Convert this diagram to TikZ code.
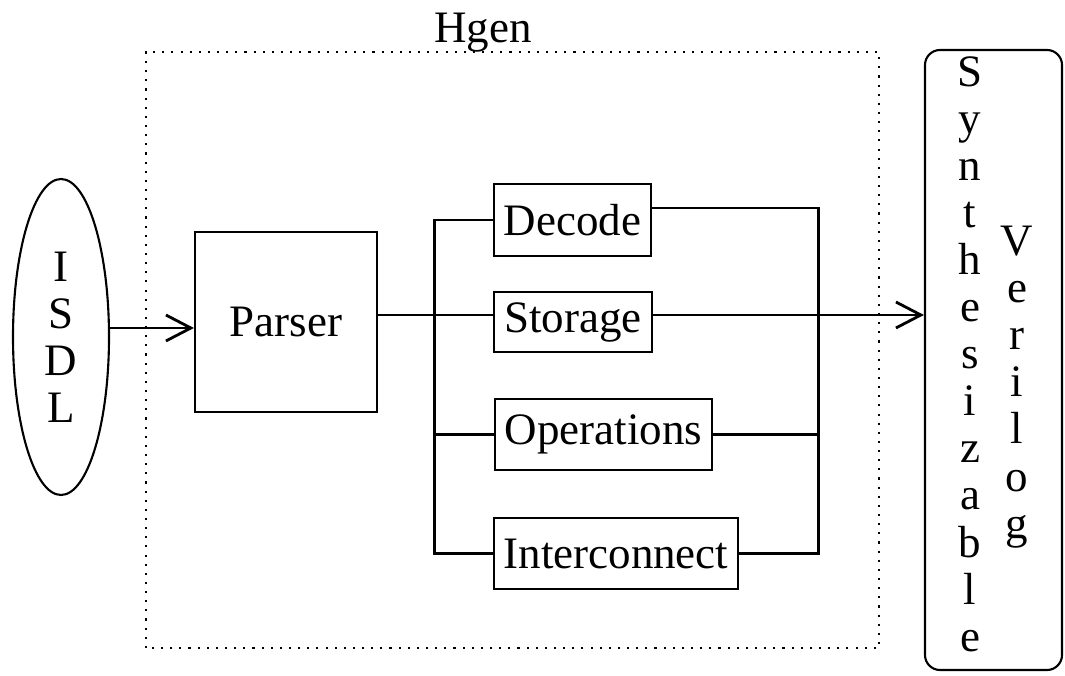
\documentclass[tikz,border=0pt]{standalone}
\usepackage{fontspec}
\setmainfont{Liberation Serif}
\usetikzlibrary{arrows.meta,shapes.geometric}

\tikzset{
  blk/.style={draw, line width=0.6pt, inner xsep=0.1cm, inner ysep=0.05cm, minimum height=0.71cm},
  wire/.style={line width=0.8pt},
  arr/.style={wire, -{Straight Barb[length=0.25cm, width=0.26cm]}},
  letters/.style={align=center, inner sep=0pt},
}

\begin{document}
\begin{tikzpicture}[font=\fontsize{12.8}{13.4}\selectfont]
\useasboundingbox (0,0) rectangle (10.65,6.75);

% Hgen frame
\draw[line width=0.6pt, dash pattern=on 0.6pt off 2pt] (1.46,0.27) rectangle (8.79,6.23);
\node (hgen) at (4.83,6.42) {Hgen};

\node[draw, ellipse, line width=0.6pt, minimum width=0.96cm, minimum height=3.16cm, inner sep=0pt, align=center] (isdl) at (0.61,3.38) {I\\S\\D\\L};
\node[draw, line width=0.6pt, minimum width=1.82cm, minimum height=1.80cm] (parser) at (2.86,3.53) {Parser};

\node[blk, minimum height=0.72cm] (decode) at (5.725,4.55) {Decode};
\node[blk, minimum height=0.60cm] (storage) at (5.73,3.53) {Storage};
\node[blk] (oper) at (6.035,2.405) {Operations};
\node[blk] (inter) at (6.16,1.215) {Interconnect};

% output box
\node[draw, rounded corners=0.15cm, line width=0.6pt, minimum width=1.37cm, minimum height=6.2cm] (synth) at (9.935,3.15) {};
\node[letters] (syn) at (9.70,3.21) {S\\y\\n\\t\\h\\e\\s\\i\\z\\a\\b\\l\\e};
\node[letters] (ver) at (10.17,2.88) {V\\e\\r\\i\\l\\o\\g};

% bus lines
\coordinate (tap) at (4.345,3.60);
\coordinate (busR) at (8.185,4.67);

\draw[arr] ([yshift=0.09cm]isdl.east) -- ([yshift=-0.06cm]parser.west);
\draw[wire] (parser.east |- tap) -- (storage.west |- tap);
\draw[arr] (storage.east |- tap) -- (synth.west |- tap);
\draw[wire] (decode.west) -| (tap) |- (inter.west);
\draw[wire] (oper.west) -- (oper.west -| tap);
\draw[wire] (decode.east |- busR) -- (busR) |- (inter.east);
\draw[wire] (oper.east) -- (oper.east -| busR);

\end{tikzpicture}
\end{document}
